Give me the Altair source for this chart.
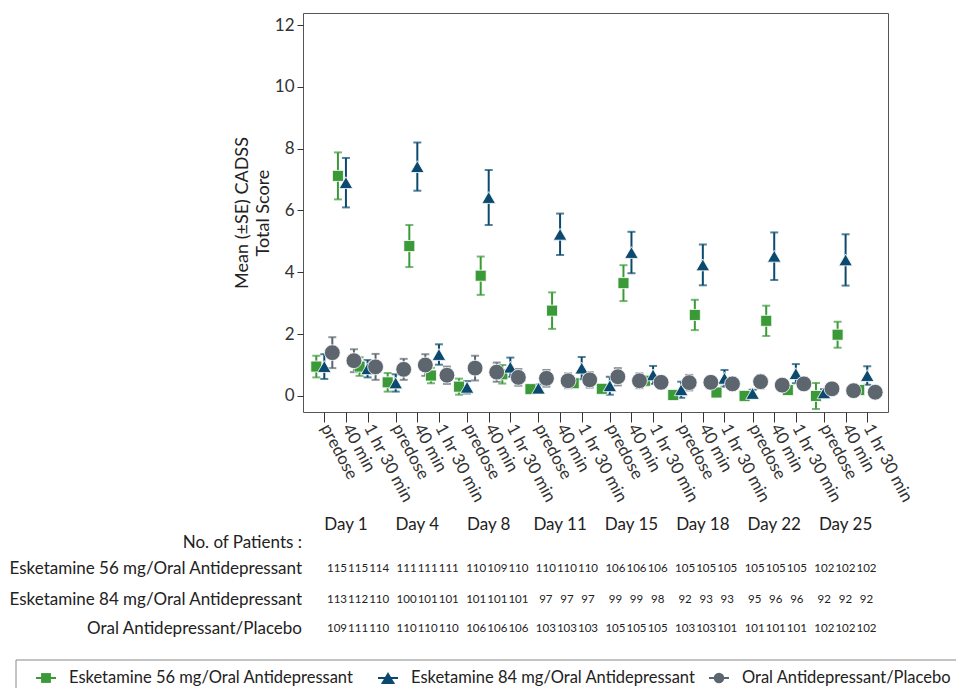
import altair as alt
import pandas as pd

days = ["Day 1", "Day 4", "Day 8", "Day 11", "Day 15", "Day 18", "Day 22", "Day 25"]
times = ["predose", "40 min", "1 hr 30 min"]
series = ["Esketamine 56 mg/Oral Antidepressant",
          "Esketamine 84 mg/Oral Antidepressant",
          "Oral Antidepressant/Placebo"]
colors = ["#3b9a38", "#0b4a6e", "#5d666e"]
shapes = ["square", "triangle-up", "circle"]
sizes = [121, 250, 140]

mean56 = [0.95, 7.12, 0.95, 0.44, 4.85, 0.66, 0.30, 3.89, 0.70, 0.22, 2.76, 0.41,
          0.23, 3.65, 0.49, 0.03, 2.62, 0.11, 0.00, 2.43, 0.19, 0.00, 1.98, 0.19]
se56 = [0.35, 0.76, 0.30, 0.30, 0.68, 0.25, 0.26, 0.62, 0.30, 0.10, 0.59, 0.10,
        0.10, 0.58, 0.15, 0.15, 0.49, 0.10, 0.15, 0.49, 0.12, 0.42, 0.42, 0.10]
mean84 = [0.95, 6.90, 0.88, 0.42, 7.42, 1.34, 0.28, 6.42, 0.93, 0.25, 5.23, 0.90,
          0.33, 4.64, 0.68, 0.20, 4.24, 0.57, 0.08, 4.52, 0.72, 0.10, 4.40, 0.66]
se84 = [0.40, 0.80, 0.28, 0.28, 0.78, 0.33, 0.20, 0.89, 0.31, 0.12, 0.67, 0.36,
        0.29, 0.67, 0.29, 0.26, 0.66, 0.27, 0.12, 0.77, 0.31, 0.12, 0.83, 0.30]
meanpl = [1.40, 1.14, 0.94, 0.86, 1.00, 0.67, 0.90, 0.77, 0.60, 0.57, 0.49, 0.52,
          0.62, 0.49, 0.44, 0.43, 0.44, 0.39, 0.46, 0.35, 0.39, 0.23, 0.17, 0.12]
sepl = [0.50, 0.37, 0.42, 0.34, 0.35, 0.28, 0.40, 0.31, 0.27, 0.27, 0.24, 0.25,
        0.28, 0.24, 0.20, 0.25, 0.20, 0.20, 0.22, 0.15, 0.20, 0.12, 0.10, 0.08]

n56 = [115, 115, 114, 111, 111, 111, 110, 109, 110, 110, 110, 110,
       106, 106, 106, 105, 105, 105, 105, 105, 105, 102, 102, 102]
n84 = [113, 112, 110, 100, 101, 101, 101, 101, 101, 97, 97, 97,
       99, 99, 98, 92, 93, 93, 95, 96, 96, 92, 92, 92]
npl = [109, 111, 110, 110, 110, 110, 106, 106, 106, 103, 103, 103,
       105, 105, 105, 103, 103, 101, 101, 101, 101, 102, 102, 102]

GROUP_STEP = 3.3
DODGE = [-0.37, 0.0, 0.37]
FONT = "Lato"

tick_pos = [g * GROUP_STEP + k for g in range(len(days)) for k in range(len(times))]

rows = []
for s_i, (name, means, ses) in enumerate(zip(series, [mean56, mean84, meanpl], [se56, se84, sepl])):
    for i, (m, e) in enumerate(zip(means, ses)):
        rows.append(dict(series=name, order=s_i, xd=tick_pos[i] + DODGE[s_i],
                         mean=m, lo=m - e, hi=m + e))
df = pd.DataFrame(rows)

x_scale = alt.Scale(domain=[-0.985, 26.06], nice=False, zero=False)
y_scale = alt.Scale(domain=[-0.52, 12.39], nice=False, zero=False)
color_scale = alt.Scale(domain=series, range=colors)
shape_scale = alt.Scale(domain=series, range=shapes)
size_scale = alt.Scale(domain=series, range=sizes)

label_expr = ("['predose','40 min','1 hr 30 min'][round(datum.value - "
              "floor((datum.value + 0.05) / 3.3) * 3.3)]")
x_axis = alt.Axis(values=tick_pos, labelExpr=label_expr, labelAngle=62,
                  labelAlign="left", labelBaseline="middle", tickSize=10,
                  tickColor="#333333", domain=False, grid=False, title=None,
                  labelFont=FONT, labelFontSize=17, labelColor="#333333",
                  labelPadding=3, labelOverlap=False, labelFlush=False, labelBound=False)
y_axis = alt.Axis(values=[0, 2, 4, 6, 8, 10, 12], tickSize=6, tickColor="#333333",
                  domain=False, grid=False, labelFont=FONT, labelFontSize=17,
                  labelColor="#333333", labelPadding=3,
                  title=["Mean (\u00b1SE) CADSS", "Total Score"], titleFont=FONT,
                  titleFontSize=18, titleFontWeight="normal", titleColor="#222222",
                  titlePadding=2, titleLineHeight=21)

X = alt.X("xd:Q", scale=x_scale, axis=x_axis)
COLOR = alt.Color("series:N", scale=color_scale, legend=None)

base = alt.Chart(df)
err = base.mark_rule(strokeWidth=2).encode(
    x=X, y=alt.Y("lo:Q", scale=y_scale, axis=y_axis), y2="hi:Q", color=COLOR)
cap_lo = base.mark_tick(orient="horizontal", thickness=2, size=8).encode(
    x=X, y=alt.Y("lo:Q", scale=y_scale, axis=y_axis), color=COLOR)
cap_hi = base.mark_tick(orient="horizontal", thickness=2, size=8).encode(
    x=X, y=alt.Y("hi:Q", scale=y_scale, axis=y_axis), color=COLOR)
points = base.mark_point(filled=True, opacity=1, stroke="white", strokeWidth=0.8).encode(
    x=X, y=alt.Y("mean:Q", scale=y_scale, axis=y_axis),
    color=COLOR,
    shape=alt.Shape("series:N", scale=shape_scale, legend=None),
    size=alt.Size("series:N", scale=size_scale, legend=None),
    order=alt.Order("order:Q"))

day_df = pd.DataFrame({"day": days, "xd": [g * GROUP_STEP + 1 for g in range(len(days))]})
day_text = alt.Chart(day_df).mark_text(font=FONT, fontSize=17, color="#222222",
                                       baseline="middle").encode(
    x=X, y=alt.value(512), text="day:N")

main = alt.layer(err, cap_lo, cap_hi, points, day_text)

# patient-number table (own x scale, no axis)
table_scale = alt.Scale(domain=[-1.61, 26.12], nice=False, zero=False)
num_layers = []
row_y = [555.5, 587, 616]
for ns, yv in zip([n56, n84, npl], row_y):
    tdf = pd.DataFrame({"xd": tick_pos, "n": [str(v) for v in ns]})
    num_layers.append(
        alt.Chart(tdf).mark_text(font=FONT, fontSize=11.5,
                                 color="#222222", baseline="middle").encode(
            x=alt.X("xd:Q", scale=table_scale, axis=None), y=alt.value(yv), text="n:N"))

one = pd.DataFrame({"a": [0]})
row_titles = ["No. of Patients :"] + series
row_title_y = [530, 555.5, 587, 616]
title_layers = []
for t, yv in zip(row_titles, row_title_y):
    title_layers.append(
        alt.Chart(one).mark_text(text=t, font=FONT, fontSize=17, color="#222222",
                                 align="right", baseline="middle").encode(
            x=alt.value(-1), y=alt.value(yv)))

# legend box drawn below the table
LEG_Y = 665
legend_layers = [
    alt.Chart(one).mark_rect(fill="white", stroke="#888888", strokeWidth=1).encode(
        x=alt.value(-287), x2=alt.value(720), y=alt.value(647), y2=alt.value(730))
]
for name, col, shp, sz, sx in zip(series, colors, shapes, sizes, [-257, 85, 416]):
    legend_layers.append(
        alt.Chart(one).mark_rule(color=col, strokeWidth=2).encode(
            x=alt.value(sx - 10), x2=alt.value(sx + 10), y=alt.value(LEG_Y)))
    legend_layers.append(
        alt.Chart(one).mark_point(filled=True, opacity=1, color=col, shape=shp,
                                  size=sz * 0.8).encode(
            x=alt.value(sx), y=alt.value(LEG_Y)))
    legend_layers.append(
        alt.Chart(one).mark_text(text=name, font=FONT, fontSize=16.5, color="#222222",
                                 align="left", baseline="middle").encode(
            x=alt.value(sx + 23), y=alt.value(LEG_Y)))

table = alt.layer(*num_layers, *title_layers, *legend_layers)

chart = alt.layer(main, table).resolve_scale(x="independent").properties(
    width=585, height=399,
    autosize=alt.AutoSizeParams(type="none"),
    padding={"left": 295, "top": 5, "right": 68, "bottom": 276},
).configure_view(stroke="#555555", strokeWidth=1)

chart.save("out.html", embed_options={"renderer": "svg", "actions": False})
